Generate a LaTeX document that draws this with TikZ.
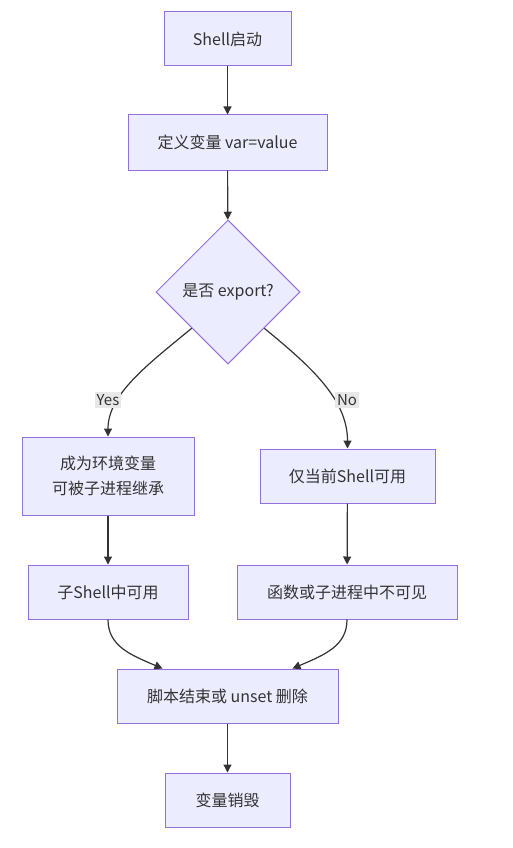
\documentclass[tikz,border=0pt]{standalone}
\usepackage{fontspec}
\setmainfont{Noto Sans CJK SC}
\usepackage{xcolor}
\usepackage{tikz}
\usetikzlibrary{arrows.meta,shapes.geometric}
\definecolor{boxfill}{HTML}{ECECFF}
\definecolor{boxline}{HTML}{9370DB}
\definecolor{inkgray}{HTML}{333333}
\definecolor{labfill}{HTML}{E8E8E8}

\begin{document}
\begin{tikzpicture}[
      x=1pt, y=-1pt,
      proc/.style={draw=boxline, fill=boxfill, line width=1pt, inner sep=0pt, minimum height=54pt,
        text=inkgray, align=center, font=\fontsize{16}{25}\selectfont},
      decide/.style={diamond, aspect=1, draw=boxline, fill=boxfill, line width=1pt, inner sep=0pt,
        minimum width=144pt, minimum height=144pt, text=inkgray, font=\fontsize{16}{20}\selectfont},
      flow/.style={draw=inkgray, line width=1.2pt, -{Triangle[length=8pt,width=8pt]}},
      lab/.style={fill=labfill, inner sep=2pt, text=inkgray, font=\fontsize{15}{18}\selectfont}
    ]
      \useasboundingbox (0,0) rectangle (513,848);

      % nodes
      \node[proc, minimum width=127pt] (start) at (227.5,39) {Shell启动};
      \node[proc, minimum width=199pt, minimum height=55pt] (define) at (227.5,142.5) {定义变量 var=value};
      \node[decide] (ask) at (228,292) {是否 export?};
      \node[proc, minimum width=172pt, minimum height=78pt] (env) at (108,476) {成为环境变量\\可被子进程继承};
      \node[proc, minimum width=175pt] (local) at (347.5,476) {仅当前Shell可用};
      \node[proc, minimum width=160pt] (sub) at (108,592) {子Shell中可用};
      \node[proc, minimum width=220pt] (hidden) at (347,592) {函数或子进程中不可见};
      \node[proc, minimum width=221pt] (finish) at (227.5,696) {脚本结束或 unset 删除};
      \node[proc, minimum width=125pt] (gone) at (227.5,800) {变量销毁};

      % straight edges
      \draw[flow] (start) -- (define);
      \draw[flow] (define) -- (ask);
      \draw[flow] (env) -- (sub);
      \draw[flow] (local) -- (hidden);
      \draw[flow] (finish) -- (gone);

      % branches
      \draw[flow] (ask.south west) .. controls +(-45,37) and +(0,-42) .. (env.north);
      \draw[flow] (ask.south east) .. controls +(45,37) and +(0,-50) .. (local.north);
      \node[lab] (yes) at (108,400) {Yes};
      \node[lab] (no) at (347,400) {No};

      % merge
      \draw[flow] (sub.south) .. controls +(0,26) and +(-33,-14) .. ([xshift=46pt]finish.north west);
      \draw[flow] (hidden.south) .. controls +(0,26) and +(33,-14) .. ([xshift=-46pt]finish.north east);
    \end{tikzpicture}
\end{document}
